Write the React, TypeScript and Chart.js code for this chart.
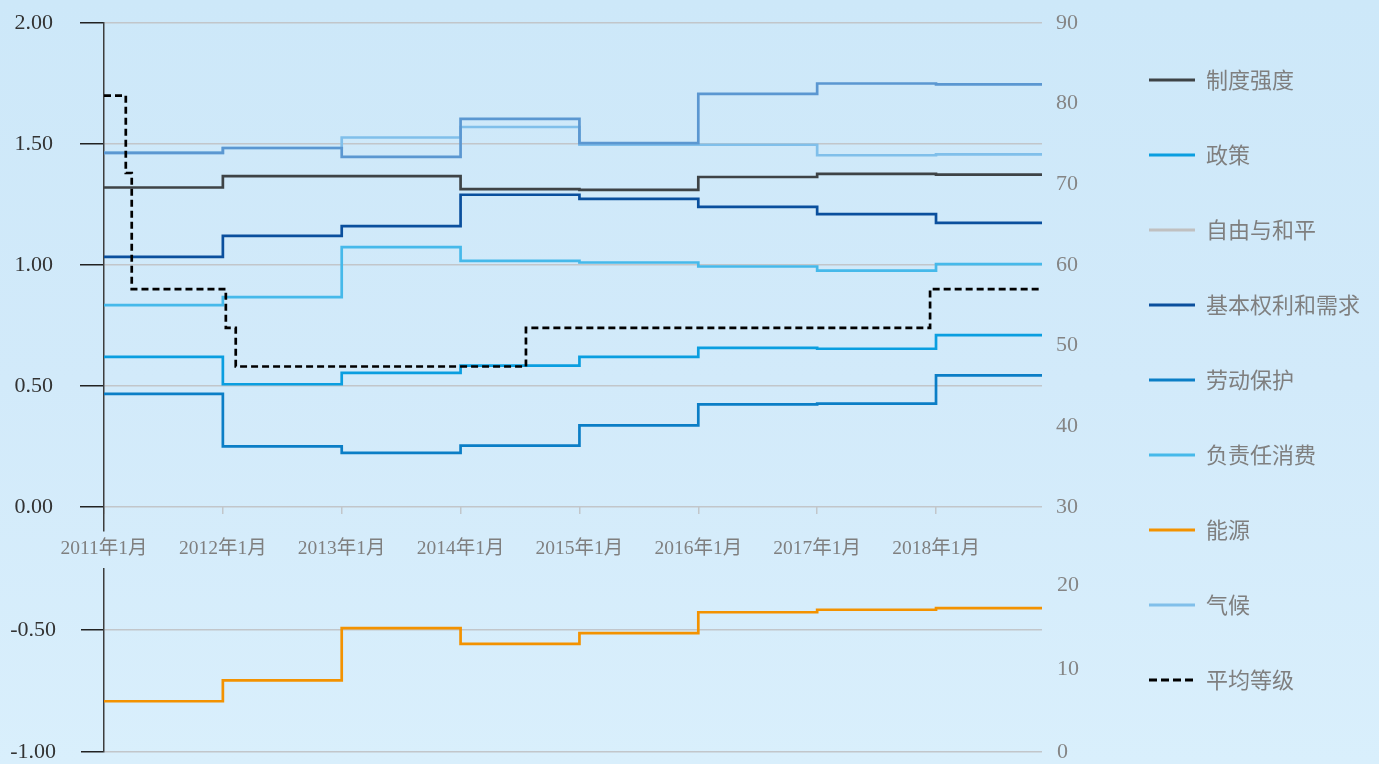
import React, { useEffect, useRef } from 'react';
import { Chart, registerables } from 'chart.js';

Chart.register(...registerables);

// ---------------- data ----------------
const seriesLabels = ['制度强度', '政策', '自由与和平', '基本权利和需求', '劳动保护', '负责任消费', '能源', '气候', '平均等级'];
const xTickLabels = ['2011年1月', '2012年1月', '2013年1月', '2014年1月', '2015年1月', '2016年1月', '2017年1月', '2018年1月'];
// month index (0 = 2011年1月) where each yearly value starts
const yearStartMonths = [0, 12, 24, 36, 48, 60, 72, 84];
const lastMonth = 94.7;

const institutionalStrength = [69.6, 71.0, 71.0, 69.4, 69.3, 70.9, 71.3, 71.2];
const policy = [48.6, 45.2, 46.6, 47.5, 48.6, 49.7, 49.6, 51.3];
const freedomPeace = [73.9, 74.5, 73.4, 78.1, 75.1, 81.2, 82.5, 82.4];
const basicRights = [61.0, 63.6, 64.8, 68.7, 68.2, 67.2, 66.3, 65.2];
const laborProtection = [44.0, 37.5, 36.7, 37.6, 40.1, 42.7, 42.8, 46.3];
const responsibleConsumption = [55.0, 56.0, 62.2, 60.5, 60.3, 59.8, 59.3, 60.1];
const energy = [6.1, 8.6, 14.9, 13.0, 14.3, 16.8, 17.1, 17.3];
const climate = [73.9, 74.5, 75.8, 77.1, 74.9, 74.9, 73.6, 73.7];

const averageGradeMonths = [0, 2.2, 2.8, 12.3, 13.3, 42.6, 83.4];
const averageGrade = [1.70, 1.38, 0.90, 0.74, 0.58, 0.74, 0.90];

const topLeftRange = [-0.1, 2];
const topLeftTicks = [0, 0.5, 1, 1.5, 2];
const topRightRange = [27, 90];
const topRightTicks = [30, 40, 50, 60, 70, 80, 90];
const bottomLeftRange = [-1, -0.25];
const bottomLeftTicks = [-1, -0.5];
const bottomRightRange = [0, 22];
const bottomRightTicks = [0, 10, 20];

// ---------------- styles ----------------
const lineColors = ['#3e4346', '#0a9ee0', '#5b97d1', '#0a4f9d', '#0b7ec6', '#46b9ea', '#f39200', '#80bfea', '#000000'];
const legendColors = ['#3e4346', '#0a9ee0', '#c0c0c0', '#0a4f9d', '#0b7ec6', '#46b9ea', '#f39200', '#80bfea', '#000000'];
const gridColor = '#c2c6ca';
const serifFont = "'Liberation Serif', 'Noto Sans CJK SC', serif";

const yearly = (vals: number[]) =>
  yearStartMonths.map((m, i) => ({ x: m, y: vals[i] })).concat([{ x: lastMonth, y: vals[vals.length - 1] }]);

const avgPoints = () =>
  averageGradeMonths
    .map((m, i) => ({ x: m, y: averageGrade[i] }))
    .concat([{ x: lastMonth, y: averageGrade[averageGrade.length - 1] }]);

const setTicks = (arr: number[]) => (s: any) => {
  s.ticks = arr.map((v) => ({ value: v }));
};
const fitAxis = (w: number, padTop: number) => (s: any) => {
  s.width = w;
  s.paddingTop = padTop;
  s.paddingBottom = 0;
  s.paddingLeft = 0;
  s.paddingRight = 0;
};

export default function App() {
  const ref = useRef<HTMLCanvasElement>(null);

  useEffect(() => {
    const canvas = ref.current;
    if (!canvas) return;

    const seriesData = [
      { vals: yearly(institutionalStrength), axis: 'yTopR' },
      { vals: yearly(policy), axis: 'yTopR' },
      { vals: yearly(freedomPeace), axis: 'yTopR' },
      { vals: yearly(basicRights), axis: 'yTopR' },
      { vals: yearly(laborProtection), axis: 'yTopR' },
      { vals: yearly(responsibleConsumption), axis: 'yTopR' },
      { vals: yearly(energy), axis: 'yBotR' },
      { vals: yearly(climate), axis: 'yTopR' },
      { vals: avgPoints(), axis: 'yTop' },
    ];

    const datasets = seriesData.map((s, i) => ({
      label: seriesLabels[i],
      data: s.vals,
      yAxisID: s.axis,
      borderColor: lineColors[i],
      backgroundColor: lineColors[i],
      borderWidth: 2.7,
      borderDash: i === 8 ? [7, 4] : [],
      stepped: 'before' as const,
      pointRadius: 0,
      fill: false,
      order: i === 8 ? -1 : 0,
    }));

    const leftTickFont = { family: serifFont, size: 22 };
    const rightTickFont = { family: serifFont, size: 22 };

    const chart = new Chart(canvas, {
      type: 'line',
      data: { datasets },
      options: {
        animation: false,
        responsive: false,
        devicePixelRatio: 1,
        layout: { padding: { top: 8, bottom: 12, left: 0, right: 9 } },
        plugins: {
          tooltip: { enabled: false },
          title: { display: false },
          legend: {
            display: true,
            position: 'right',
            align: 'center',
            maxWidth: 400,
            labels: {
              usePointStyle: true,
              pointStyleWidth: 46,
              padding: 53,
              color: '#7f7f7f',
              font: { family: "'Noto Sans CJK SC', sans-serif", size: 22 },
              generateLabels: (c: any) =>
                c.data.datasets.map((ds: any, i: number) => ({
                  text: ds.label,
                  fillStyle: legendColors[i],
                  strokeStyle: legendColors[i],
                  lineWidth: 3,
                  lineDash: i === 8 ? [8, 4] : [],
                  pointStyle: 'line',
                  hidden: false,
                  datasetIndex: i,
                  fontColor: '#7f7f7f',
                })),
            },
          },
        },
        scales: {
          x: {
            type: 'linear',
            position: { yTop: 0 } as any,
            min: 0,
            max: lastMonth,
            afterBuildTicks: setTicks(yearStartMonths),
            afterFit: (s: any) => {
              s.paddingLeft = 0;
              s.paddingRight = 0;
              s.paddingTop = 0;
              s.paddingBottom = 0;
            },
            ticks: {
              callback: (v: any) => {
                const idx = yearStartMonths.indexOf(Number(v));
                return idx >= 0 ? xTickLabels[idx] : '';
              },
              font: { family: serifFont, size: 19.5 },
              color: '#7f7f7f',
              padding: 23,
              maxRotation: 0,
              autoSkip: false,
            },
            grid: { display: true, drawOnChartArea: false, drawTicks: true, tickLength: 7, color: gridColor, lineWidth: 1.5 },
            border: { display: false },
          },
          yTop: {
            type: 'linear',
            position: 'left',
            stack: 'L',
            stackWeight: 508,
            weight: 3,
            min: topLeftRange[0],
            max: topLeftRange[1],
            afterBuildTicks: setTicks(topLeftTicks),
            afterFit: fitAxis(104, 23),
            ticks: { callback: (v: any) => Number(v).toFixed(2), font: leftTickFont, color: '#333333', padding: 27 },
            grid: { color: gridColor, lineWidth: 1.5, drawTicks: true, tickLength: 24, tickColor: '#222222', tickWidth: 1.5 },
            border: { display: true, color: '#3d3d3d', width: 1.5 },
          },
          yGapL: {
            type: 'linear',
            position: 'left',
            stack: 'L',
            stackWeight: 38,
            weight: 2,
            min: 0,
            max: 1,
            afterFit: fitAxis(104, 0),
            ticks: { display: false },
            grid: { display: false, drawTicks: false },
            border: { display: false },
          },
          yBot: {
            type: 'linear',
            position: 'left',
            stack: 'L',
            stackWeight: 183,
            weight: 1,
            min: bottomLeftRange[0],
            max: bottomLeftRange[1],
            afterBuildTicks: setTicks(bottomLeftTicks),
            afterFit: fitAxis(104, 0),
            ticks: { callback: (v: any) => Number(v).toFixed(2), font: leftTickFont, color: '#333333', padding: 25 },
            grid: { color: gridColor, lineWidth: 1.5, drawTicks: true, tickLength: 23, tickColor: '#222222', tickWidth: 1.5 },
            border: { display: true, color: '#3d3d3d', width: 1.5 },
          },
          yTopR: {
            type: 'linear',
            position: 'right',
            stack: 'R',
            stackWeight: 508,
            weight: 1,
            min: topRightRange[0],
            max: topRightRange[1],
            afterBuildTicks: setTicks(topRightTicks),
            afterFit: fitAxis(54, 0),
            ticks: { callback: (v: any) => String(v), font: rightTickFont, color: '#858585', padding: 14 },
            grid: { display: false, drawTicks: false },
            border: { display: false },
          },
          yGapR: {
            type: 'linear',
            position: 'right',
            stack: 'R',
            stackWeight: 38,
            weight: 2,
            min: 0,
            max: 1,
            afterFit: fitAxis(54, 0),
            ticks: { display: false },
            grid: { display: false, drawTicks: false },
            border: { display: false },
          },
          yBotR: {
            type: 'linear',
            position: 'right',
            stack: 'R',
            stackWeight: 183,
            weight: 3,
            min: bottomRightRange[0],
            max: bottomRightRange[1],
            afterBuildTicks: setTicks(bottomRightTicks),
            afterFit: fitAxis(54, 0),
            ticks: { callback: (v: any) => String(v), font: rightTickFont, color: '#858585', padding: 15 },
            grid: { display: false, drawTicks: false },
            border: { display: false },
          },
        },
      } as any,
    });

    return () => chart.destroy();
  }, []);

  return (
    <div
      style={{
        position: 'absolute',
        left: 0,
        top: 0,
        width: 1379,
        height: 764,
        background: 'linear-gradient(to bottom, #cde8f9 0%, #d2eafa 50%, #d9effc 100%)',
      }}
    >
      <canvas ref={ref} width={1379} height={764} style={{ display: 'block' }} />
    </div>
  );
}
